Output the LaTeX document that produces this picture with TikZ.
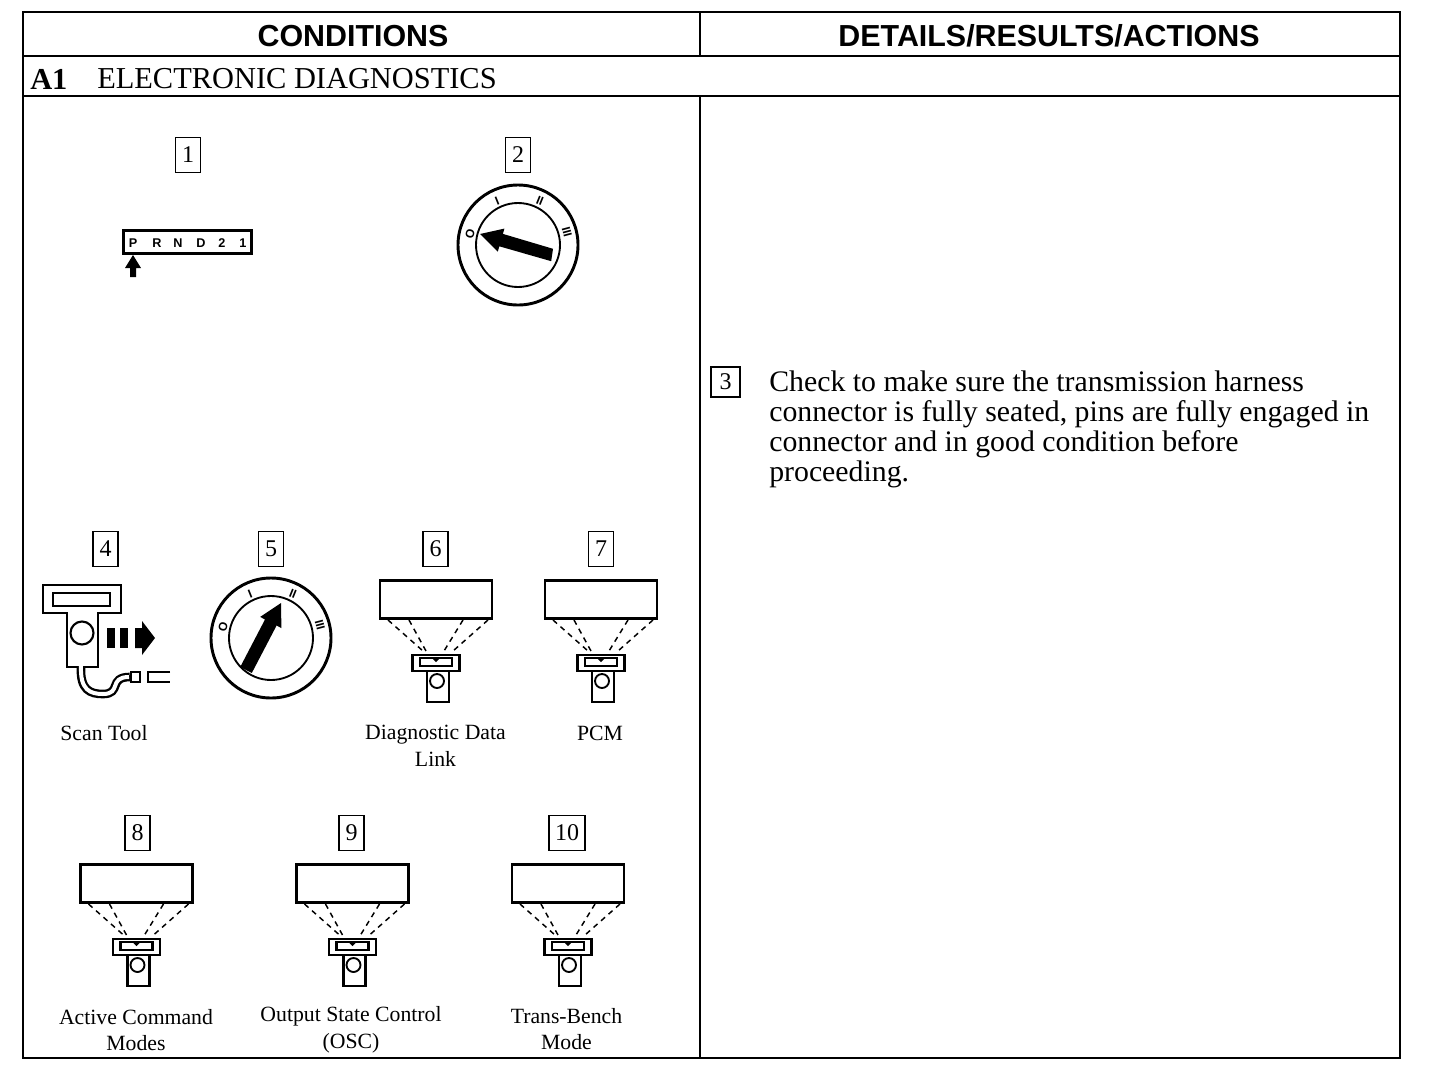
\documentclass[tikz,border=0pt]{standalone}
\usepackage{fontspec}
\setmainfont{Liberation Serif}
\newfontfamily\hfont{Liberation Sans}
\tikzset{
  x=0.75pt,y=-0.75pt,
  line/.style={draw=black,line width=1.5pt},
  numbox/.style={draw=black,line width=1.1pt,inner sep=0pt,minimum width=19pt,minimum height=26.5pt,font=\fontsize{18}{18}\selectfont},
  headtext/.style={font=\hfont\bfseries\fontsize{22.8}{22.8}\selectfont,inner sep=0pt},
  bodytext/.style={font=\fontsize{22.35}{22.5}\selectfont,inner sep=0pt},
  captext/.style={font=\fontsize{16.3}{20}\selectfont,inner sep=0pt,align=center},
  markglyph/.style={font=\hfont\bfseries\fontsize{9}{9}\selectfont,inner sep=0pt},
  blackfill/.style={fill=black,draw=none},
  viewtool/.pic={
    \node[draw=black,line width=2pt,minimum width=84pt,minimum height=28.5pt,inner sep=0pt,anchor=north] (-box) at (0,0) {};
    \node[draw=black,line width=1.8pt,minimum width=35pt,minimum height=12pt,inner sep=0pt,anchor=north] (-h) at (0,75) {};
    \coordinate (-a1) at (-48,41); \coordinate (-b1) at (-13,72);
    \coordinate (-a2) at (-27,41); \coordinate (-b2) at (-10,72);
    \coordinate (-a3) at (27,41);  \coordinate (-b3) at (8,72);
    \coordinate (-a4) at (52,41);  \coordinate (-b4) at (17,72);
    \draw[line width=1.1pt,dash pattern=on 4pt off 3.5pt] (-a1)--(-b1) (-a2)--(-b2) (-a3)--(-b3) (-a4)--(-b4);
    \draw[line,line width=1.8pt] (-9,91)--(-9,123)--(13,123)--(13,91);
    \draw[line,line width=1.6pt] (-16,79) rectangle (16,87);
    \fill (-4,79)--(4,79)--(0,83)--cycle;
    \draw[line,line width=1.4pt] (1,102) circle (7);
  },
  dial/.pic={
    \draw[line,line width=2.2pt] (0,0) circle (60);
    \draw[line,line width=1.4pt] (0,0) circle (42);
    \node[markglyph,rotate=75] at (-48,-11) {O};
    \node[markglyph,rotate=22] at (-21,-44) {I};
    \node[markglyph,rotate=-22] at (22,-44) {II};
    \node[markglyph,rotate=-75] at (49,-13) {III};
  }
}
\begin{document}
\begin{tikzpicture}
\useasboundingbox[fill=white] (0,0) rectangle (1456,1064);
% table frame
\coordinate (tl) at (23,12); \coordinate (tr) at (1400,12);
\coordinate (bl) at (23,1058); \coordinate (br) at (1400,1058);
\coordinate (h1l) at (23,56); \coordinate (h1r) at (1400,56);
\coordinate (h2l) at (23,96); \coordinate (h2r) at (1400,96);
\coordinate (vt) at (699.5,12); \coordinate (vm) at (699.5,56);
\coordinate (vm2) at (699.5,96); \coordinate (vb) at (699.5,1058);
\draw[line] (tl)--(tr)--(br)--(bl)--cycle;
\draw[line] (h1l)--(h1r);
\draw[line] (h2l)--(h2r);
\draw[line] (vt)--(vm);
\draw[line] (vm2)--(vb);
% header text
\node[headtext] (hc) at (353,36.5) {CONDITIONS};
\node[headtext] (hd) at (1049,36) {DETAILS/RESULTS/ACTIONS};
\node[font=\bfseries\fontsize{22.8}{22.8}\selectfont,inner sep=0pt,anchor=west] (a1) at (30,79) {A1};
\node[font=\fontsize{22.8}{22.8}\selectfont,inner sep=0pt,anchor=west] (title) at (97,79) {ELECTRONIC DIAGNOSTICS};
% number boxes
\node[numbox] (n1) at (188,155) {1};
\node[numbox] (n2) at (518,155) {2};
\node[numbox,minimum width=22pt,minimum height=22.5pt] (n3) at (725.5,382) {3};
\node[numbox] (n4) at (105.5,549) {4};
\node[numbox] (n5) at (271,549) {5};
\node[numbox] (n6) at (435.5,549) {6};
\node[numbox] (n7) at (601,549) {7};
\node[numbox] (n8) at (137.5,833) {8};
\node[numbox] (n9) at (351.5,833) {9};
\node[numbox,minimum width=27pt] (n10) at (567,833) {10};
% text block
\node[bodytext,anchor=north west,align=left] (txt) at (769,371) {Check to make sure the transmission harness\\connector is fully seated, pins are fully engaged in\\connector and in good condition before\\proceeding.};
% shift indicator
\node[draw=black,line width=1.8pt,minimum width=96pt,minimum height=17.5pt,inner sep=0pt] (prnd) at (187.5,242) {};
\foreach \x/\t in {133/P,157/R,178/N,201/D,222/2,243/1}
  \node[font=\hfont\bfseries\fontsize{9.5}{9.5}\selectfont,inner sep=0pt] at (\x,243) {\t};
\fill[blackfill] (133,255)--(141,268)--(136,268)--(136,277)--(130,277)--(130,268)--(125,268)--cycle;
% dials
\pic (d2) at (518,245) {dial};
\fill[blackfill] (480,234)--(504.4,228.6)--(502.9,233.9)--(553,248.8)--(551.2,261.2)--(499.3,246.3)--(497.8,251.6)--cycle;
\pic (d5) at (271,638) {dial};
\fill[blackfill] (281,603)--(281.4,628.1)--(276.6,625.5)--(251.8,673)--(240.2,667)--(265,619.5)--(260.2,616.9)--cycle;
% scan tool
\draw[line,line width=2.2pt] (67,613)--(43,613)--(43,585)--(121,585)--(121,613)--(98,613)--(98,667)--(67,667)--cycle;
\draw[line,line width=2pt] (53,593) rectangle (110,606);
\draw[line,line width=1.6pt] (82,633) circle (11.5);
\fill[blackfill] (107,628) rectangle (115,648);
\fill[blackfill] (120,628) rectangle (128,648);
\fill[blackfill] (135,628)--(142,628)--(142,621)--(155,638)--(142,655)--(142,648)--(135,648)--cycle;
\node[draw=black,line width=1.5pt,minimum width=7pt,minimum height=7.5pt,inner sep=0pt] (plug) at (135.5,677) {};
\coordinate (cb) at (81,667);
\draw[line width=6.5pt,black] (cb) .. controls (80,690) and (90,694) .. (103,694) .. controls (122,694) and (108,677) .. (plug.west);
\draw[line width=3pt,white] (81,666) .. controls (80,690) and (90,694) .. (103,694) .. controls (122,694) and (108,677) .. (129,677);
\draw[line,line width=1.8pt] (170,672)--(148,672)--(148,682)--(170,682);
% view tools
\pic (t6) at (436,579) {viewtool};
\pic (t7) at (601,579) {viewtool};
\pic (t8) at (136.5,863) {viewtool};
\pic (t9) at (352.5,863) {viewtool};
\pic (t10) at (568,863) {viewtool};
% captions
\node[captext] (c4) at (104,733) {Scan Tool};
\node[captext] (c6) at (435.5,746) {Diagnostic Data\\Link};
\node[captext] (c7) at (600,733) {PCM};
\node[captext] (c8) at (136,1030) {Active Command\\Modes};
\node[captext] (c9) at (351,1030) {Output State Control\\(OSC)};
\node[captext] (c10) at (566.5,1029) {Trans-Bench\\Mode};
\end{tikzpicture}
\end{document}
